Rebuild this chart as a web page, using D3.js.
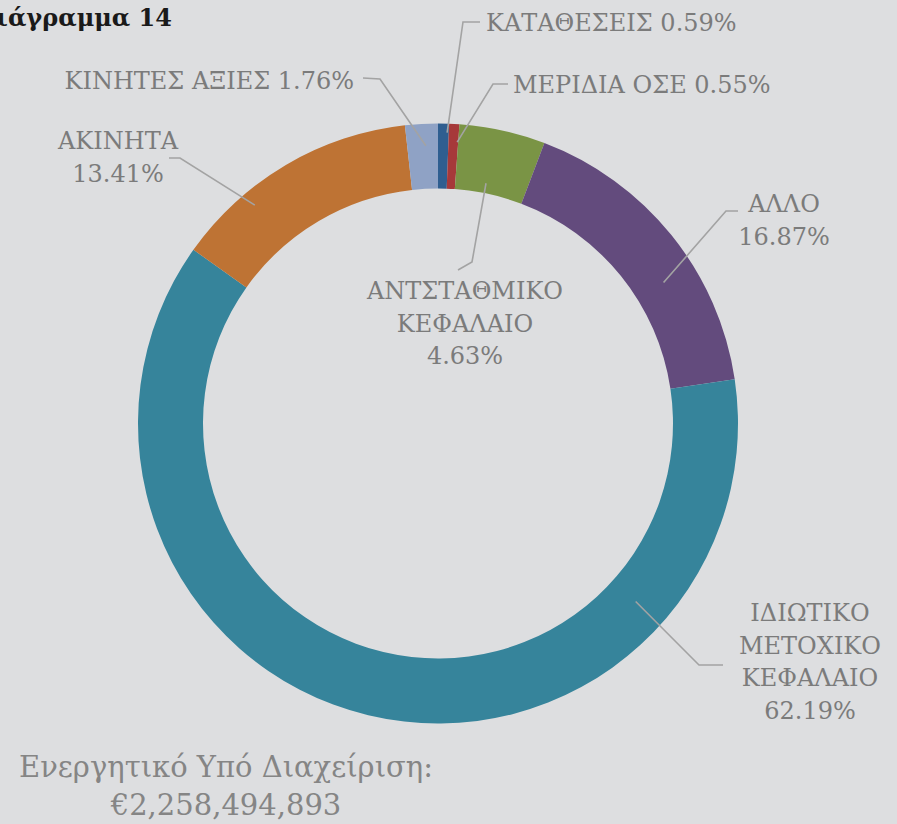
<!DOCTYPE html>
<html>
<head>
<meta charset="utf-8">
<script src="https://cdn.jsdelivr.net/npm/d3@7"></script>
<style>
  body { margin: 0; background: #dddee0; }
  svg { display: block; }
</style>
</head>
<body>
<div id="chart"></div>
<script>
// data, clockwise from 12 o'clock
var categories = ["ΚΑΤΑΘΕΣΕΙΣ", "ΜΕΡΙΔΙΑ ΟΣΕ", "ΑΝΤΣΤΑΘΜΙΚΟ ΚΕΦΑΛΑΙΟ", "ΑΛΛΟ",
                  "ΙΔΙΩΤΙΚΟ ΜΕΤΟΧΙΚΟ ΚΕΦΑΛΑΙΟ", "ΑΚΙΝΗΤΑ", "ΚΙΝΗΤΕΣ ΑΞΙΕΣ"];
var shares = [0.59, 0.55, 4.63, 16.87, 62.19, 13.41, 1.76];
var colors = ["#2f5e90", "#a6393a", "#7a9445", "#634b7d", "#36849b", "#be7334", "#8fa2c5"];
var totalText = "€2,258,494,893";

// label layout: text lines, text anchor point, leader anchor (deg, radius), elbow, end
var labelLayout = [
  {lines: ["ΚΑΤΑΘΕΣΕΙΣ 0.59%"], x: 486, y: 31, anchor: "start", a: 1.8, r: 291, elbow: [463, 22], end: [480, 22]},
  {lines: ["ΜΕΡΙΔΙΑ ΟΣΕ 0.55%"], x: 513, y: 93, anchor: "start", a: 3.9, r: 282, elbow: [493, 84], end: [508, 84]},
  {lines: ["ΑΝΤΣΤΑΘΜΙΚΟ", "ΚΕΦΑΛΑΙΟ", "4.63%"], x: 465, y: 299, anchor: "middle", a: 11.3, r: 245, elbow: [472, 262], end: [458, 270]},
  {lines: ["ΑΛΛΟ", "16.87%"], x: 784, y: 212, anchor: "middle", a: 58, r: 266, elbow: [726, 211], end: [738, 211]},
  {lines: ["ΙΔΙΩΤΙΚΟ", "ΜΕΤΟΧΙΚΟ", "ΚΕΦΑΛΑΙΟ", "62.19%"], x: 810, y: 621, anchor: "middle", a: 132, r: 266, elbow: [699, 665], end: [723, 665]},
  {lines: ["ΑΚΙΝΗΤΑ", "13.41%"], x: 118, y: 149, anchor: "middle", a: 320, r: 285, elbow: [180, 158], end: [169, 158]},
  {lines: ["ΚΙΝΗΤΕΣ ΑΞΙΕΣ 1.76%"], x: 354, y: 89, anchor: "end", a: 357.5, r: 278, elbow: [380, 79], end: [363, 78]}
];

var width = 897, height = 824;
var cx = 438, cy = 423.5, outerR = 300, innerR = 235;
var font = "'DejaVu Serif', serif";

var svg = d3.select("#chart").append("svg")
  .attr("width", width)
  .attr("height", height);

svg.append("rect").attr("width", width).attr("height", height).attr("fill", "#dddee0");

svg.append("text")
  .text("Διάγραμμα 14")
  .attr("x", 172).attr("y", 26)
  .attr("text-anchor", "end")
  .style("font-family", font)
  .style("font-weight", "bold")
  .style("font-size", "24px")
  .attr("fill", "#1a1a1a");

var pie = d3.pie().sort(null).value(function(d){ return d; });
var arc = d3.arc().innerRadius(innerR).outerRadius(outerR);

var g = svg.append("g").attr("transform", "translate(" + cx + "," + cy + ")");

g.selectAll("path.slice")
  .data(pie(shares))
  .enter().append("path")
  .attr("class", "slice")
  .attr("d", arc)
  .attr("fill", function(d, i){ return colors[i]; });

// leaders
var leaders = svg.append("g").attr("class", "leaders");
labelLayout.forEach(function(l){
  var p = d3.pointRadial(l.a * Math.PI / 180, l.r);
  leaders.append("polyline")
    .attr("points", [[cx + p[0], cy + p[1]], l.elbow, l.end].map(function(q){ return q.join(","); }).join(" "))
    .attr("fill", "none")
    .attr("stroke", "#a3a3a3")
    .attr("stroke-width", 1.6);
});

// labels
labelLayout.forEach(function(l){
  var t = svg.append("text")
    .attr("text-anchor", l.anchor)
    .style("font-family", font)
    .style("font-size", "24px")
    .attr("fill", "#7b7b7b");
  l.lines.forEach(function(s, k){
    t.append("tspan").attr("x", l.x).attr("y", l.y + k * 32.5).text(s);
  });
});

svg.append("text")
  .attr("x", 226).attr("y", 777)
  .attr("text-anchor", "middle")
  .style("font-family", font)
  .style("font-size", "29px")
  .attr("fill", "#858585")
  .text("Ενεργητικό Υπό Διαχείριση:");
svg.append("text")
  .attr("x", 226).attr("y", 815)
  .attr("text-anchor", "middle")
  .style("font-family", font)
  .style("font-size", "29px")
  .attr("fill", "#858585")
  .text(totalText);
</script>
</body>
</html>
